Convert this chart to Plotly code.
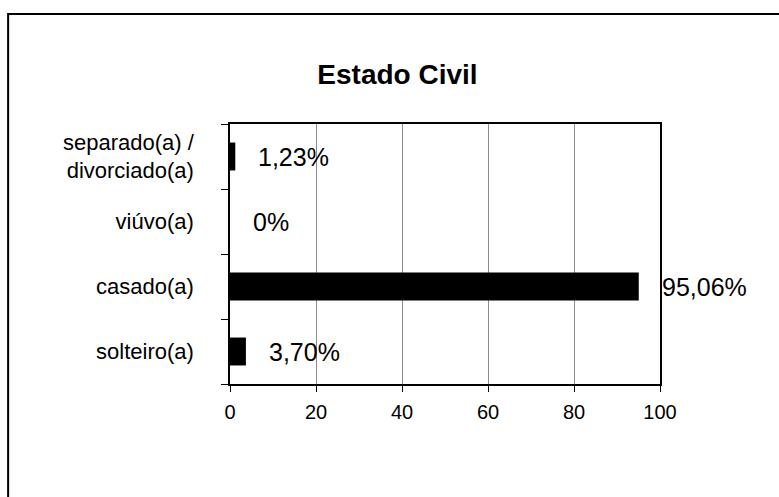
import plotly.graph_objects as go

categories = ["solteiro(a)", "casado(a)", "viúvo(a)", "separado(a) /<br>divorciado(a)"]
values = [3.70, 95.06, 0, 1.23]
value_labels = ["3,70%", "95,06%", "0%", "1,23%"]
x_ticks = [0, 20, 40, 60, 80, 100]
title_text = "Estado Civil"

font_family = "Arial, Liberation Sans, sans-serif"

fig = go.Figure()
fig.add_trace(go.Bar(
    x=values,
    y=categories,
    orientation="h",
    marker=dict(color="black", line=dict(width=0)),
    hoverinfo="skip",
))

for v, lab, cat in zip(values, value_labels, categories):
    fig.add_annotation(
        x=v, y=cat, text=lab, showarrow=False,
        xanchor="left", yanchor="middle", xshift=21,
        font=dict(family=font_family, size=25, color="black"),
    )

# outer frame
fig.add_shape(type="rect", xref="paper", yref="paper",
              x0=-0.516, x1=2.0, y0=-2.0, y1=1.423,
              line=dict(color="black", width=2), fillcolor="rgba(0,0,0,0)",
              layer="below")

fig.update_layout(
    width=779, height=497,
    margin=dict(l=230, r=119, t=124, b=113),
    paper_bgcolor="white", plot_bgcolor="white",
    showlegend=False,
    bargap=0.57,
    hovermode=False,
    title=dict(text="<b>%s</b>" % title_text, x=(397.5) / 779, xanchor="center",
               y=1 - 74 / 497, yanchor="middle",
               font=dict(family=font_family, size=28, color="black")),
    font=dict(family=font_family, color="black"),
)

fig.update_xaxes(
    range=[0, 100], tickvals=x_ticks, ticktext=[str(t) for t in x_ticks],
    showgrid=True, gridcolor="#8c8c8c", gridwidth=1,
    showline=True, linecolor="black", linewidth=1.5, mirror=True,
    ticks="outside", ticklen=6, tickcolor="black", tickwidth=1,
    tickfont=dict(family=font_family, size=20, color="black"),
    ticklabelstandoff=3,
    zeroline=False, fixedrange=True,
)
fig.update_yaxes(
    categoryorder="array", categoryarray=categories,
    showgrid=False,
    showline=True, linecolor="black", linewidth=1.5, mirror=True,
    ticks="outside", tickson="boundaries", ticklen=7, tickcolor="black", tickwidth=1,
    tickfont=dict(family=font_family, size=22, color="black"),
    ticklabelstandoff=30,
    fixedrange=True,
)

fig.write_html("out.html", config={"displayModeBar": False},
               post_script="document.body.style.margin='0';")
